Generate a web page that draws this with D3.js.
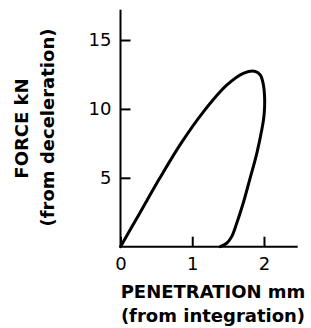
<!DOCTYPE html>
<html>
<head>
<meta charset="utf-8">
<script src="https://cdn.jsdelivr.net/npm/d3@7"></script>
<style>
  body { margin: 0; background: #fff; }
  svg { display: block; }
  .tick text { font-family: "DejaVu Sans", sans-serif; }
  .axis-label { font-family: "DejaVu Sans", sans-serif; font-weight: bold; font-size: 18px; }
</style>
</head>
<body>
<div id="chart"></div>
<script>
// force-penetration loop
var penetration = [0, 0.27, 0.55, 0.85, 1.15, 1.48, 1.72, 1.88, 1.95, 1.99, 2.01, 2.00, 1.97, 1.90, 1.80, 1.71, 1.62, 1.55, 1.48, 1.39];
var force       = [0, 2.45, 5.00, 7.55, 9.75, 11.72, 12.60, 12.72, 12.45, 11.80, 10.60, 9.50, 8.50, 6.78, 4.85, 3.15, 1.70, 0.73, 0.25, 0];
var xTicks = [0, 1, 2];
var yTicks = [5, 10, 15];

var width = 311, height = 328;
var svg = d3.select("#chart").append("svg")
    .attr("width", width)
    .attr("height", height);

// set the ranges
var x = d3.scaleLinear().domain([0, 2.47]).range([120.5, 297.7]);
var y = d3.scaleLinear().domain([0, 17.2]).range([246.7, 9.7]);

var data = penetration.map(function(d, i) { return {p: d, f: force[i]}; });

// the loop
var valueline = d3.line()
    .x(function(d) { return x(d.p); })
    .y(function(d) { return y(d.f); })
    .curve(d3.curveCatmullRom.alpha(0.5));

svg.append("path")
    .datum(data)
    .attr("fill", "none")
    .attr("stroke", "#000")
    .attr("stroke-width", 3)
    .attr("stroke-linejoin", "round")
    .attr("stroke-linecap", "round")
    .attr("d", valueline);

// x axis, ticks pointing up
var xAxis = svg.append("g")
    .attr("transform", "translate(0," + y(0) + ")")
    .call(d3.axisTop(x).tickValues(xTicks).tickSize(10).tickFormat(d3.format("d")));
xAxis.select(".domain").attr("stroke-width", 2).attr("d", "M" + x(0) + ",0H" + x(2.47));
xAxis.selectAll(".tick line").attr("stroke-width", 2);
xAxis.selectAll(".tick text")
    .attr("y", 23)
    .attr("dy", 0)
    .style("font-size", "18px");

// y axis, ticks pointing right
var yAxis = svg.append("g")
    .attr("transform", "translate(" + x(0) + ",0)")
    .call(d3.axisRight(y).tickValues(yTicks).tickSize(10).tickFormat(d3.format("d")));
yAxis.select(".domain").attr("stroke-width", 2).attr("d", "M0," + y(0) + "V" + y(17.2));
yAxis.selectAll(".tick line").attr("stroke-width", 2);
yAxis.selectAll(".tick text")
    .attr("x", -9)
    .attr("text-anchor", "end")
    .style("font-size", "18px");

// axis labels
svg.append("text")
    .attr("class", "axis-label")
    .attr("x", 213)
    .attr("y", 298)
    .style("text-anchor", "middle")
    .text("PENETRATION mm");

svg.append("text")
    .attr("class", "axis-label")
    .attr("x", 213)
    .attr("y", 322)
    .style("text-anchor", "middle")
    .text("(from integration)");

svg.append("text")
    .attr("class", "axis-label")
    .attr("transform", "translate(28,128.5) rotate(-90)")
    .style("text-anchor", "middle")
    .text("FORCE kN");

svg.append("text")
    .attr("class", "axis-label")
    .attr("transform", "translate(54,127.5) rotate(-90)")
    .style("text-anchor", "middle")
    .text("(from deceleration)");
</script>
</body>
</html>
